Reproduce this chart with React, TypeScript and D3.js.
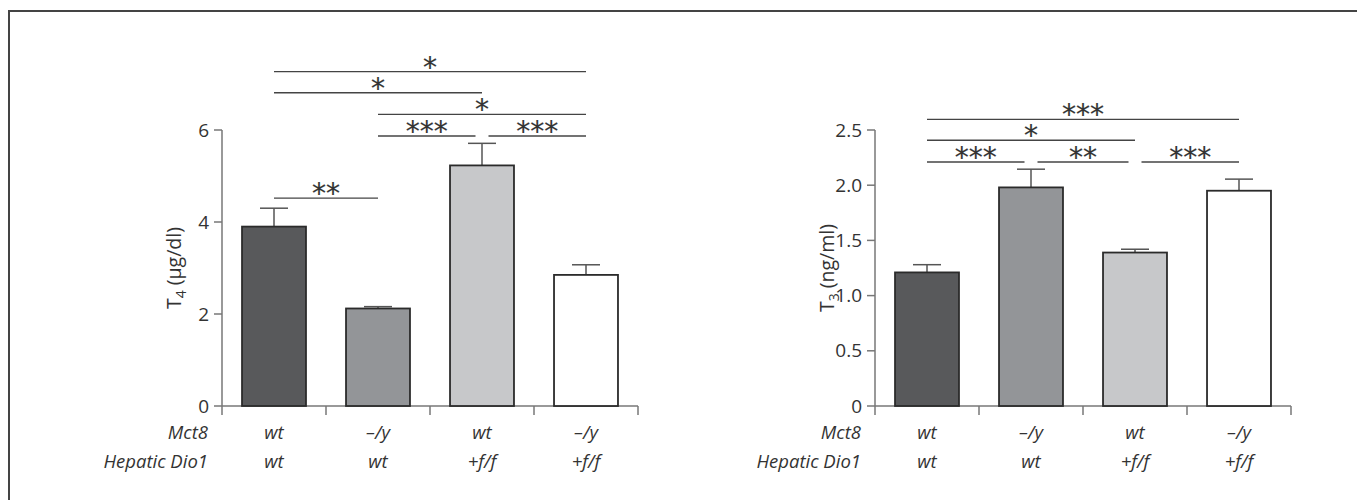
import React, { useRef, useEffect } from "react";
import * as d3 from "d3";

// groups, left to right
const groups = ["A", "B", "C", "D"];
const mct8Labels = ["wt", "–/y", "wt", "–/y"];
const dio1Labels = ["wt", "wt", "+f/f", "+f/f"];
const barColors = ["#58595b", "#939598", "#c7c8ca", "#ffffff"];

// T4 panel
const t4Values = [3.9, 2.12, 5.23, 2.85];
const t4Errors = [0.4, 0.04, 0.48, 0.22];
const t4Ticks = [0, 2, 4, 6];
const t4TickLabels = ["0", "2", "4", "6"];
// significance brackets: from group a to b, drawn at value y
const t4Sig = [
  { a: 0, b: 1, y: 4.52, label: "**", trimA: false, trimB: false },
  { a: 1, b: 2, y: 5.87, label: "***", trimA: false, trimB: true },
  { a: 2, b: 3, y: 5.87, label: "***", trimA: true, trimB: false },
  { a: 1, b: 3, y: 6.34, label: "*", trimA: false, trimB: false },
  { a: 0, b: 2, y: 6.81, label: "*", trimA: false, trimB: false },
  { a: 0, b: 3, y: 7.27, label: "*", trimA: false, trimB: false },
];

// T3 panel
const t3Values = [1.21, 1.98, 1.39, 1.95];
const t3Errors = [0.07, 0.165, 0.03, 0.105];
const t3Ticks = [0, 0.5, 1, 1.5, 2, 2.5];
const t3TickLabels = ["0", "0.5", "1.0", "1.5", "2.0", "2.5"];
const t3Sig = [
  { a: 0, b: 1, y: 2.21, label: "***", trimA: false, trimB: true },
  { a: 1, b: 2, y: 2.21, label: "**", trimA: true, trimB: true },
  { a: 2, b: 3, y: 2.21, label: "***", trimA: true, trimB: false },
  { a: 0, b: 2, y: 2.407, label: "*", trimA: false, trimB: false },
  { a: 0, b: 3, y: 2.597, label: "***", trimA: false, trimB: false },
];

const FONT = "'Open Sans', 'Noto Sans', sans-serif";
const TEXT = "#333";
const AXIS = "#777";

const drawPanel = (g, opts) => {
  const { left, values, errors, ticks, tickLabels, yMax, sig, title, sub, unit, titleX } = opts;
  const plotTop = 130;
  const plotBottom = 406;
  const width = 416;

  const x = d3.scaleBand().domain(groups).range([left, left + width]).padding(0);
  const y = d3.scaleLinear().domain([0, yMax]).range([plotBottom, plotTop]);
  const barW = x.bandwidth() * 0.615;
  const cx = (i) => x(groups[i]) + x.bandwidth() / 2;

  // y axis
  g.append("line")
    .attr("x1", left).attr("x2", left)
    .attr("y1", y(yMax)).attr("y2", plotBottom)
    .attr("stroke", AXIS).attr("stroke-width", 1.5);
  ticks.forEach((t, i) => {
    g.append("line")
      .attr("x1", left - 8).attr("x2", left)
      .attr("y1", y(t)).attr("y2", y(t))
      .attr("stroke", AXIS).attr("stroke-width", 1.5);
    g.append("text")
      .attr("x", left - 13).attr("y", y(t))
      .attr("dy", "0.35em")
      .attr("text-anchor", "end")
      .attr("font-family", FONT).attr("font-size", 19)
      .attr("fill", TEXT)
      .text(tickLabels[i]);
  });

  // x axis
  g.append("line")
    .attr("x1", left).attr("x2", left + width)
    .attr("y1", plotBottom).attr("y2", plotBottom)
    .attr("stroke", AXIS).attr("stroke-width", 1.5);
  [...groups.map((d) => x(d)), left + width].forEach((px) => {
    g.append("line")
      .attr("x1", px).attr("x2", px)
      .attr("y1", plotBottom).attr("y2", plotBottom + 9)
      .attr("stroke", AXIS).attr("stroke-width", 1.5);
  });

  // error bars (upper only)
  groups.forEach((d, i) => {
    const top = y(values[i] + errors[i]);
    g.append("line")
      .attr("x1", cx(i)).attr("x2", cx(i))
      .attr("y1", y(values[i])).attr("y2", top)
      .attr("stroke", "#555").attr("stroke-width", 1.5);
    g.append("line")
      .attr("x1", cx(i) - 14).attr("x2", cx(i) + 14)
      .attr("y1", top).attr("y2", top)
      .attr("stroke", "#555").attr("stroke-width", 1.5);
  });

  // bars
  g.selectAll(".bar")
    .data(values)
    .enter()
    .append("rect")
    .attr("x", (d, i) => cx(i) - barW / 2)
    .attr("y", (d) => y(d))
    .attr("width", barW)
    .attr("height", (d) => plotBottom - y(d))
    .attr("fill", (d, i) => barColors[i])
    .attr("stroke", "#2b2b2b")
    .attr("stroke-width", 1.8);

  // significance lines
  sig.forEach((s) => {
    const x1 = cx(s.a) + (s.trimA ? 6.5 : 0);
    const x2 = cx(s.b) - (s.trimB ? 6.5 : 0);
    const yy = y(s.y);
    g.append("line")
      .attr("x1", x1).attr("x2", x2)
      .attr("y1", yy).attr("y2", yy)
      .attr("stroke", "#444").attr("stroke-width", 1.3);
    g.append("text")
      .attr("x", (x1 + x2) / 2).attr("y", yy + 5)
      .attr("text-anchor", "middle")
      .attr("font-family", "'DejaVu Sans', sans-serif")
      .attr("font-size", 28)
      .attr("fill", TEXT)
      .attr("stroke", TEXT)
      .attr("stroke-width", 0.2)
      .text(s.label);
  });

  // category labels
  const rows = [
    { name: "Mct8", labels: mct8Labels, yy: 433 },
    { name: "Hepatic Dio1", labels: dio1Labels, yy: 462 },
  ];
  rows.forEach((r) => {
    g.append("text")
      .attr("x", left - 14).attr("y", r.yy)
      .attr("dy", "0.35em")
      .attr("text-anchor", "end")
      .attr("font-family", FONT).attr("font-size", 18.5)
      .attr("font-style", "italic")
      .attr("fill", TEXT)
      .text(r.name);
    r.labels.forEach((l, i) => {
      g.append("text")
        .attr("x", cx(i)).attr("y", r.yy)
        .attr("dy", "0.35em")
        .attr("text-anchor", "middle")
        .attr("font-family", FONT).attr("font-size", 18.5)
        .attr("font-style", "italic")
        .attr("fill", TEXT)
        .text(l);
    });
  });

  // y title
  const t = g.append("text")
    .attr("transform", `translate(${titleX},268) rotate(-90)`)
    .attr("text-anchor", "middle")
    .attr("dy", "0.35em")
    .attr("font-family", FONT).attr("font-size", 19.5)
    .attr("fill", TEXT);
  t.append("tspan").text(title);
  t.append("tspan").attr("font-size", 14).attr("dy", 5).text(sub);
  t.append("tspan").attr("dy", -5).attr("dx", 5).text(unit);
};

const App = () => {
  const svgRef = useRef(null);
  const width = 1357;
  const height = 500;

  useEffect(() => {
    const svg = d3.select(svgRef.current);
    svg.selectAll("*").remove();

    // frame
    svg.append("path")
      .attr("d", `M9,${height + 5} V11 H${width + 5}`)
      .attr("fill", "none")
      .attr("stroke", "#444")
      .attr("stroke-width", 2);

    drawPanel(svg.append("g"), {
      left: 222, values: t4Values, errors: t4Errors, ticks: t4Ticks,
      tickLabels: t4TickLabels, yMax: 6, sig: t4Sig,
      title: "T", sub: "4", unit: "(µg/dl)", titleX: 174,
    });
    drawPanel(svg.append("g"), {
      left: 875, values: t3Values, errors: t3Errors, ticks: t3Ticks,
      tickLabels: t3TickLabels, yMax: 2.5, sig: t3Sig,
      title: "T", sub: "3", unit: "(ng/ml)", titleX: 827,
    });
  }, []);

  return (
    <svg
      ref={svgRef}
      width={width}
      height={height}
      style={{ position: "absolute", left: 0, top: 0, background: "#fff" }}
    />
  );
};

export default App;
